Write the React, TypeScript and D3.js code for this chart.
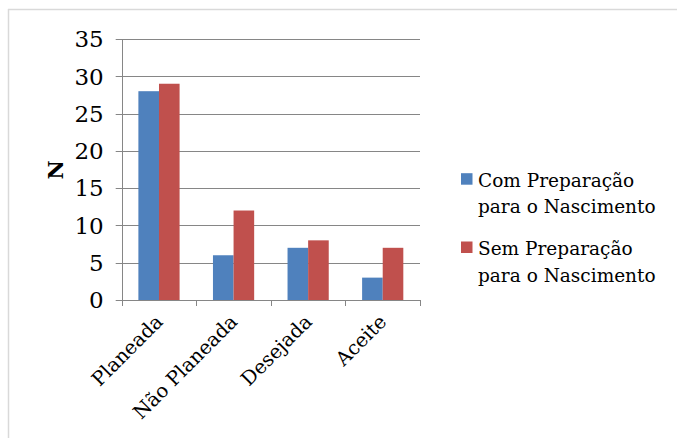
import React from "react";
import * as d3 from "d3";

const categories = ["Planeada", "Não Planeada", "Desejada", "Aceite"];
const comPreparacao = [28, 6, 7, 3];
const semPreparacao = [29, 12, 8, 7];
const seriesNames = [
  ["Com Preparação", "para o Nascimento"],
  ["Sem Preparação", "para o Nascimento"],
];
const yTicks = [0, 5, 10, 15, 20, 25, 30, 35];

const W = 677;
const H = 438;
const colors = ["#4F81BD", "#C0504D"];
const font = "'DejaVu Serif', serif";

export default function App() {
  const plot = { left: 121.7, right: 420, top: 39, bottom: 300 };
  const y = d3.scaleLinear().domain([0, 35]).range([plot.bottom, plot.top]);
  const x = d3.scaleBand<string>().domain(categories).range([plot.left, plot.right]);
  const barW = 20.6;
  const series = [comPreparacao, semPreparacao];
  const grid = "#868686";
  const txt = { fontFamily: font };

  return (
    <svg
      width={W}
      height={H}
      style={{ position: "absolute", left: 0, top: 0, display: "block" }}
    >
      <rect x={0} y={0} width={W} height={H} fill="#fff" />
      {/* chart frame */}
      <line x1={8.5} y1={9} x2={8.5} y2={H} stroke="#d9d9d9" strokeWidth={1.5} />
      <line x1={8} y1={9.5} x2={W} y2={9.5} stroke="#d9d9d9" strokeWidth={1.5} />

      {/* gridlines, y ticks and labels */}
      {yTicks.map((t) => (
        <g key={t}>
          <line
            x1={plot.left - 6}
            x2={plot.right}
            y1={Math.round(y(t)) + 0.5}
            y2={Math.round(y(t)) + 0.5}
            stroke={grid}
            strokeWidth={1}
          />
          <text
            x={plot.left - 18}
            y={y(t)}
            dy="0.36em"
            textAnchor="end"
            fontSize={23}
            fill="#000"
            style={txt}
          >
            {t}
          </text>
        </g>
      ))}

      {/* bars */}
      {categories.map((c, i) => {
        const cx = (x(c) as number) + x.bandwidth() / 2;
        return series.map((s, j) => (
          <rect
            key={c + j}
            x={cx - barW + j * barW}
            y={y(s[i])}
            width={barW}
            height={y(0) - y(s[i])}
            fill={colors[j]}
          />
        ));
      })}

      {/* axes */}
      <line
        x1={Math.round(plot.left) + 0.5}
        x2={Math.round(plot.left) + 0.5}
        y1={plot.top}
        y2={plot.bottom}
        stroke={grid}
      />
      {d3.range(categories.length + 1).map((k) => {
        const tx = Math.round(plot.left + k * x.step()) + 0.5;
        return (
          <line key={k} x1={tx} x2={tx} y1={plot.bottom} y2={plot.bottom + 6} stroke={grid} />
        );
      })}

      {/* category labels */}
      {categories.map((c) => {
        const cx = (x(c) as number) + x.bandwidth() / 2 + 5;
        const cy = plot.bottom + 23;
        return (
          <text
            key={c}
            x={cx}
            y={cy}
            textAnchor="end"
            fontSize={19.5}
            style={txt}
            transform={`rotate(-45, ${cx}, ${cy})`}
          >
            {c}
          </text>
        );
      })}

      {/* y axis title */}
      <text
        x={0}
        y={0}
        transform="translate(63, 170) rotate(-90)"
        textAnchor="middle"
        fontSize={21}
        fontWeight="bold"
        style={txt}
      >
        N
      </text>

      {/* legend */}
      {seriesNames.map((lines, j) => {
        const base = 186.7 + j * 68.3;
        return (
          <g key={j}>
            <rect x={461} y={base - 13.5} width={11.5} height={11.5} fill={colors[j]} />
            {lines.map((l, k) => (
              <text key={k} x={478} y={base + k * 26.5} fontSize={18.5} style={txt}>
                {l}
              </text>
            ))}
          </g>
        );
      })}
    </svg>
  );
}
